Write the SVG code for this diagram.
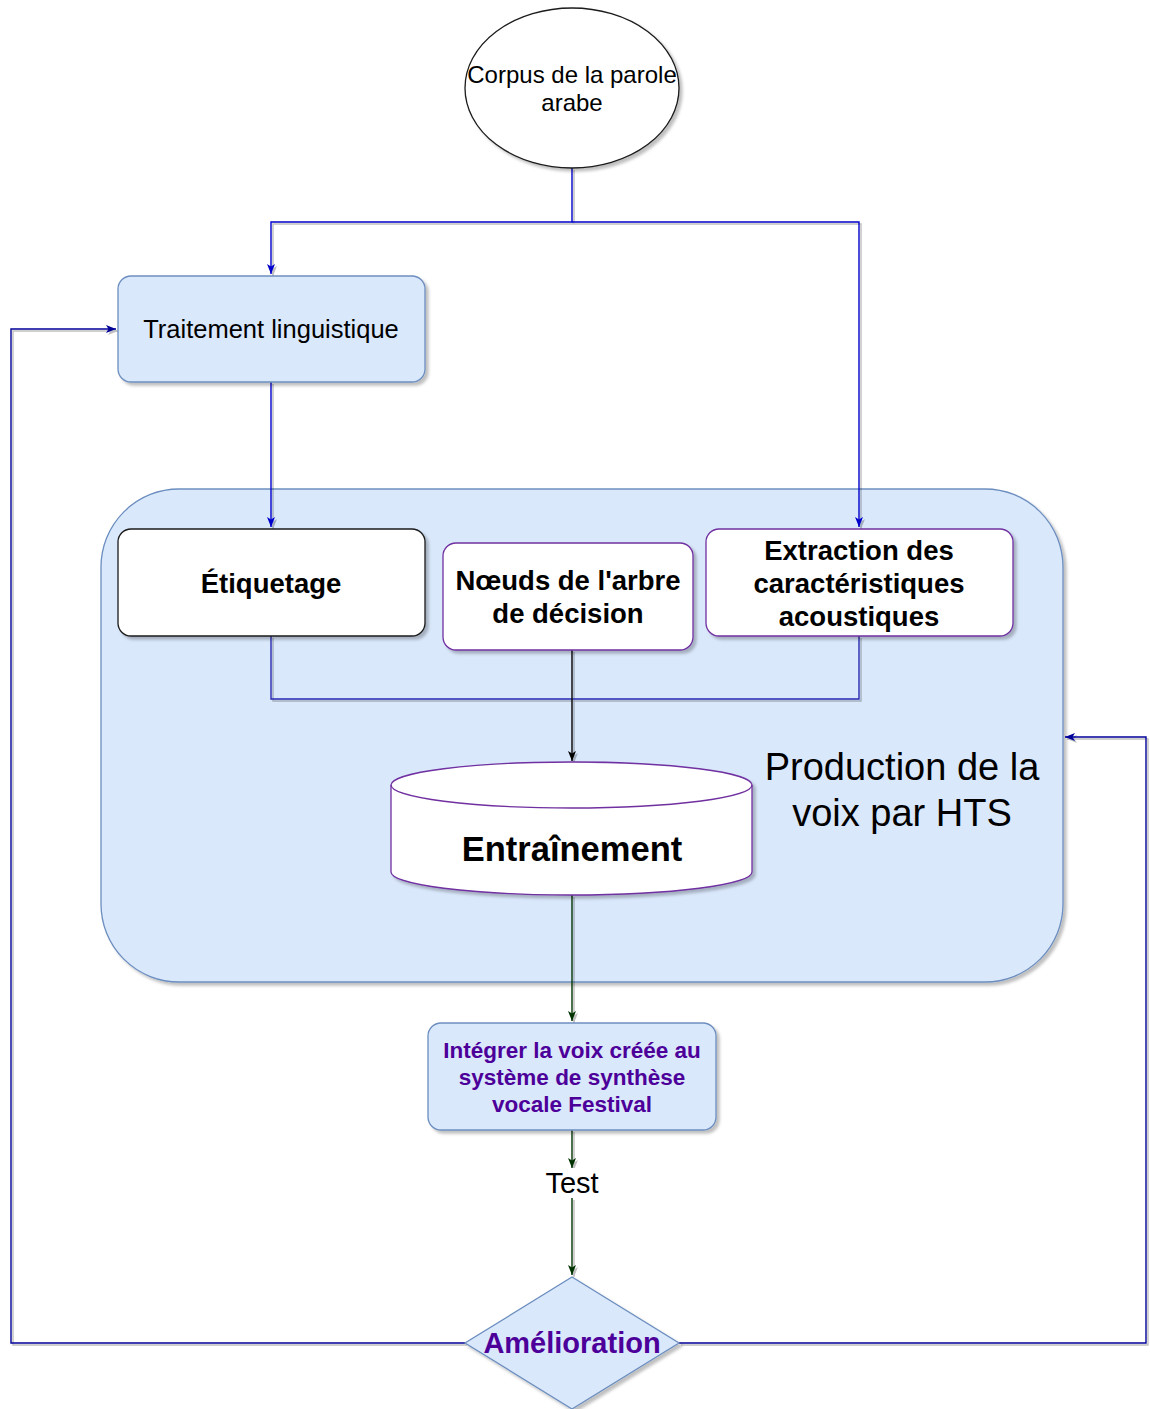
<svg xmlns="http://www.w3.org/2000/svg" width="1150" height="1409" viewBox="0 0 1150 1409">
  <defs>
    <filter id="shadow" x="-10%" y="-10%" width="130%" height="130%">
      <feDropShadow dx="3" dy="3" stdDeviation="1.5" flood-color="#000" flood-opacity="0.25"/>
    </filter>
    <filter id="lineShadow" x="-5%" y="-5%" width="110%" height="110%">
      <feDropShadow dx="2" dy="2" stdDeviation="0.6" flood-color="#000" flood-opacity="0.25"/>
    </filter>
    <marker id="arrowBlue" viewBox="0 0 10 10" refX="10" refY="5" markerWidth="10" markerHeight="10" markerUnits="userSpaceOnUse" orient="auto">
      <path d="M0,1 L10,5 L0,9 L2.5,5 z" fill="#0000CC"/>
    </marker>
    <marker id="arrowNavy" viewBox="0 0 10 10" refX="10" refY="5" markerWidth="10" markerHeight="10" markerUnits="userSpaceOnUse" orient="auto">
      <path d="M0,1 L10,5 L0,9 L2.5,5 z" fill="#000099"/>
    </marker>
    <marker id="arrowBlack" viewBox="0 0 10 10" refX="10" refY="5" markerWidth="10" markerHeight="10" markerUnits="userSpaceOnUse" orient="auto">
      <path d="M0,1 L10,5 L0,9 L2.5,5 z" fill="#000"/>
    </marker>
    <marker id="arrowGreen" viewBox="0 0 10 10" refX="10" refY="5" markerWidth="10" markerHeight="10" markerUnits="userSpaceOnUse" orient="auto">
      <path d="M0,1 L10,5 L0,9 L2.5,5 z" fill="#003300"/>
    </marker>
  </defs>
  <style>
    text { font-family: "Liberation Sans", Arial, sans-serif; text-anchor: middle; dominant-baseline: central; }
    .blue { fill: #dae8fc; stroke: #6c8ebf; stroke-width: 1.3; }
    .white { fill: #ffffff; stroke: #7030a0; stroke-width: 1.3; }
    .dark { fill: #ffffff; stroke: #1a1a1a; stroke-width: 1.3; }
    .lbl { font-size: 27.5px; font-weight: bold; fill: #000; }
    .edge { fill: none; stroke-width: 1.4; }
  </style>

  <rect width="1150" height="1409" fill="#ffffff"/>

  <!-- container: HTS voice production stage -->
  <g id="hts">
    <rect x="101" y="489" width="962" height="493" rx="78" class="blue" filter="url(#shadow)"/>
    <text x="902" y="767" font-size="38" fill="#000">Production de la</text>
    <text x="902" y="813" font-size="38" fill="#000">voix par HTS</text>
  </g>

  <!-- connectors -->
  <g id="connectors" filter="url(#lineShadow)">
    <polyline class="edge" stroke="#0000CC" points="572,168 572,222 271,222 271,274" marker-end="url(#arrowBlue)"/>
    <polyline class="edge" stroke="#0000CC" points="572,222 859,222 859,527" marker-end="url(#arrowBlue)"/>
    <polyline class="edge" stroke="#0000CC" points="271,382 271,527" marker-end="url(#arrowBlue)"/>
    <polyline class="edge" stroke="#2a2ab0" points="271,636 271,699 859,699 859,636"/>
    <polyline class="edge" stroke="#000" points="572,650 572,761" marker-end="url(#arrowBlack)"/>
    <polyline class="edge" stroke="#003300" points="572,895 572,1021" marker-end="url(#arrowGreen)"/>
    <polyline class="edge" stroke="#003300" points="572,1130 572,1168" marker-end="url(#arrowGreen)"/>
    <polyline class="edge" stroke="#003300" points="572,1198 572,1275" marker-end="url(#arrowGreen)"/>
    <polyline class="edge" stroke="#000099" points="465,1343 11,1343 11,329 116,329" marker-end="url(#arrowNavy)"/>
    <polyline class="edge" stroke="#000099" points="679,1343 1146,1343 1146,737 1065,737" marker-end="url(#arrowNavy)"/>
  </g>

  <g id="corpus">
    <ellipse cx="572" cy="88" rx="107" ry="80" class="dark" filter="url(#shadow)"/>
    <text x="572" y="74" font-size="24" fill="#000">Corpus de la parole</text>
    <text x="572" y="102" font-size="24" fill="#000">arabe</text>
  </g>

  <g id="traitement">
    <rect x="118" y="276" width="307" height="106" rx="13" class="blue" filter="url(#shadow)"/>
    <text x="271" y="329" font-size="25.5" fill="#000">Traitement linguistique</text>
  </g>

  <g id="etiquetage">
    <rect x="118" y="529" width="307" height="107" rx="13" class="dark" filter="url(#shadow)"/>
    <text x="271" y="583" class="lbl">Étiquetage</text>
  </g>

  <g id="noeuds">
    <rect x="443" y="543" width="250" height="107" rx="13" class="white" filter="url(#shadow)"/>
    <text x="568" y="580" class="lbl">Nœuds de l'arbre</text>
    <text x="568" y="613" class="lbl">de décision</text>
  </g>

  <g id="extraction">
    <rect x="706" y="529" width="307" height="107" rx="13" class="white" filter="url(#shadow)"/>
    <text x="859" y="550" class="lbl">Extraction des</text>
    <text x="859" y="583" class="lbl">caractéristiques</text>
    <text x="859" y="616" class="lbl">acoustiques</text>
  </g>

  <g id="entrainement">
    <path d="M391,785 A180.5,23 0 0 1 752,785 L752,872 A180.5,23 0 0 1 391,872 Z" class="white" filter="url(#shadow)"/>
    <path d="M391,785 A180.5,23 0 0 0 752,785" fill="none" stroke="#7030a0" stroke-width="1.3"/>
    <text x="572" y="849" font-size="34.5" font-weight="bold" fill="#000">Entraînement</text>
  </g>

  <g id="integrer">
    <rect x="428" y="1023" width="288" height="107" rx="13" class="blue" filter="url(#shadow)"/>
    <text x="572" y="1050" font-size="22.5" font-weight="bold" fill="#4c0099">Intégrer la voix créée au</text>
    <text x="572" y="1077" font-size="22.5" font-weight="bold" fill="#4c0099">système de synthèse</text>
    <text x="572" y="1104" font-size="22.5" font-weight="bold" fill="#4c0099">vocale Festival</text>
  </g>

  <g id="test">
    <rect x="540" y="1168" width="64" height="30" fill="#ffffff"/>
    <text x="572" y="1183" font-size="29" fill="#000">Test</text>
  </g>

  <g id="amelioration">
    <polygon points="572,1277 679,1343 572,1409 465,1343" class="blue" filter="url(#shadow)"/>
    <text x="572" y="1343" font-size="29" font-weight="bold" fill="#4c0099">Amélioration</text>
  </g>
</svg>
